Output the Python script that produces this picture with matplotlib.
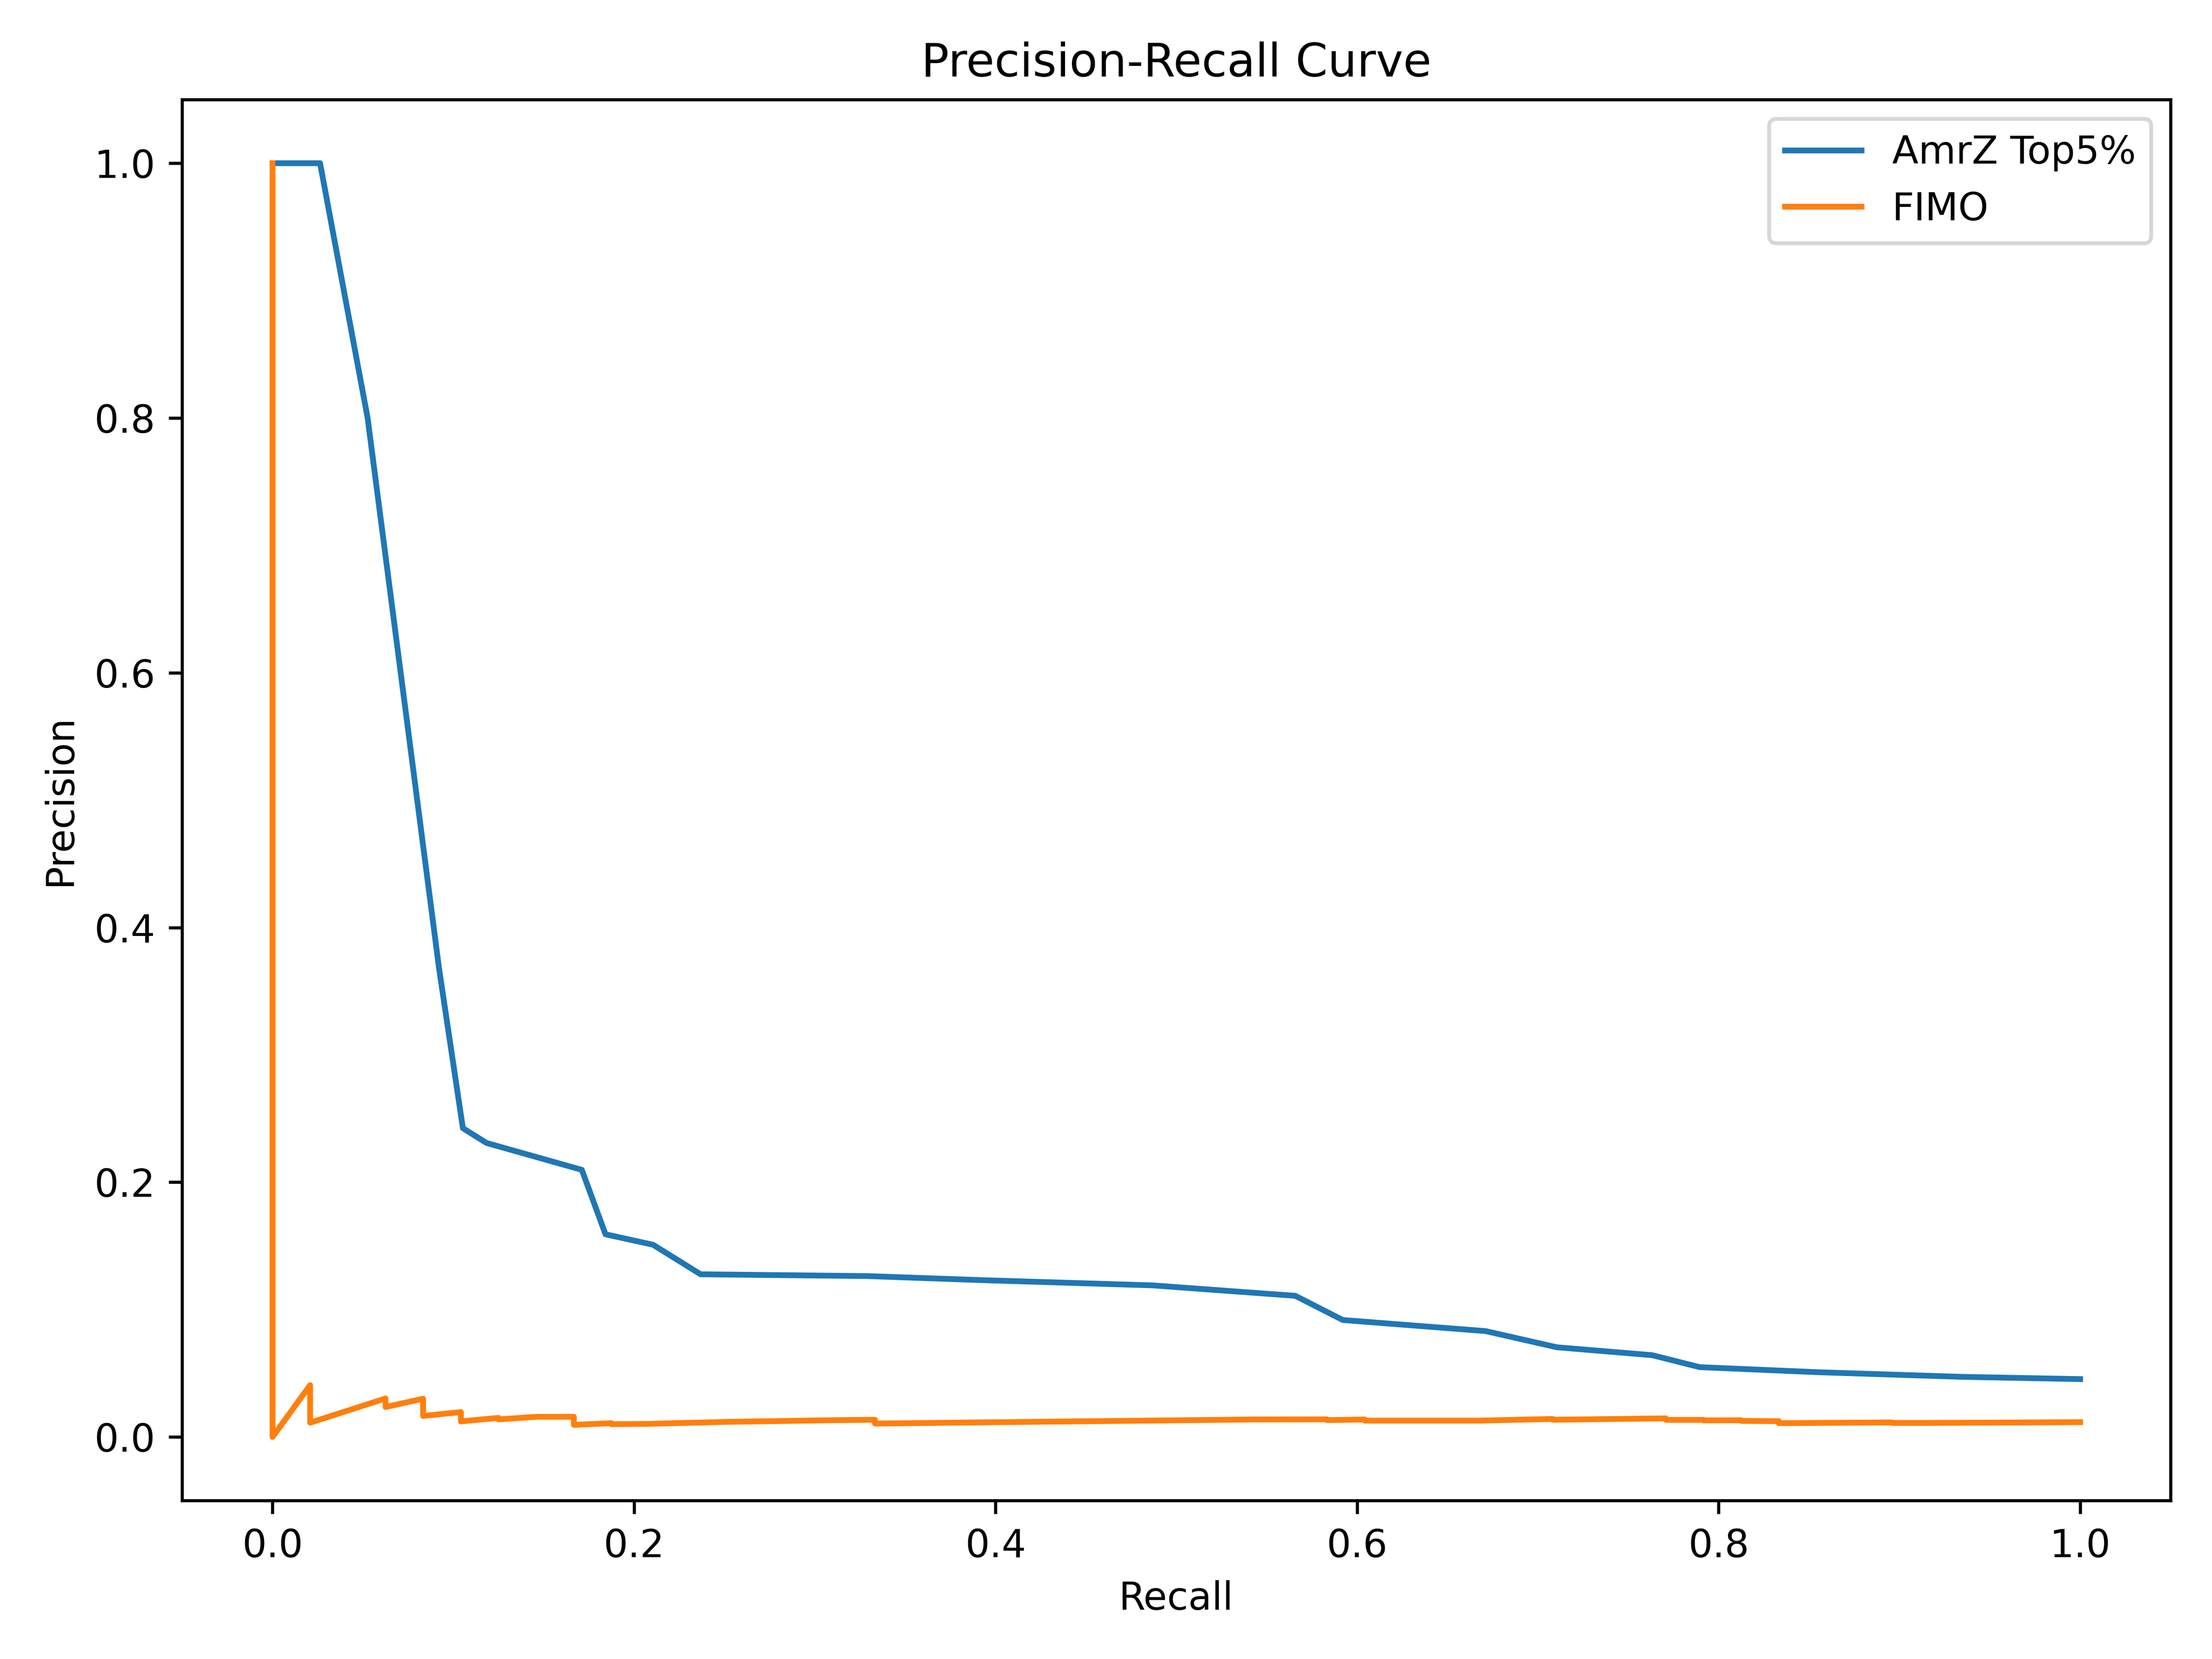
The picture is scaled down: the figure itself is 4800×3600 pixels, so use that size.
import matplotlib
matplotlib.use("Agg")
import matplotlib.pyplot as plt

# AmrZ Top5% precision-recall points
amrz_recall = [0.0, 0.0263, 0.0526, 0.0921, 0.1053, 0.1184, 0.1711, 0.1842, 0.2105,
               0.2368, 0.3289, 0.3947, 0.4868, 0.5658, 0.5921, 0.6711, 0.7105, 0.7632,
               0.7895, 0.8553, 0.9342, 1.0]
amrz_precision = [1.0, 1.0, 0.80, 0.368, 0.2424, 0.2308, 0.2097, 0.1591, 0.1509,
                  0.1277, 0.1263, 0.1230, 0.1190, 0.1108, 0.0918, 0.0831, 0.0704, 0.0642,
                  0.0548, 0.0508, 0.0472, 0.0454]

# FIMO precision-recall points
fimo_recall = [0.0, 0.0, 0.0208, 0.0208, 0.0625, 0.0625, 0.0833, 0.0833, 0.1042, 0.1042,
               0.125, 0.125, 0.1458, 0.1667, 0.1667, 0.1875, 0.1875, 0.2083, 0.25,
               0.3125, 0.3333, 0.3333, 0.3958, 0.5417, 0.5833, 0.5833, 0.6042, 0.6042,
               0.6667, 0.7083, 0.7083, 0.7708, 0.7708, 0.7917, 0.7917, 0.8125, 0.8125,
               0.8333, 0.8333, 0.8958, 0.8958, 0.9167, 1.0]
fimo_precision = [1.0, 0.0, 0.0407, 0.0112, 0.0302, 0.0235, 0.0300, 0.0165, 0.0195, 0.0122,
                  0.0150, 0.0138, 0.0158, 0.0158, 0.0095, 0.0108, 0.0100, 0.0103, 0.0118,
                  0.0132, 0.0135, 0.0105, 0.0115, 0.0137, 0.0138, 0.0132, 0.0137, 0.0128,
                  0.0128, 0.0141, 0.0135, 0.0146, 0.0134, 0.0134, 0.0130, 0.0131, 0.0126,
                  0.0124, 0.0108, 0.0114, 0.0110, 0.0110, 0.0116]

fig, ax = plt.subplots(figsize=(8, 6), dpi=600)
ax.plot(amrz_recall, amrz_precision, label="AmrZ Top5%")
ax.plot(fimo_recall, fimo_precision, label="FIMO")
ax.set_xlabel("Recall")
ax.set_ylabel("Precision")
ax.set_title("Precision-Recall Curve")
ax.legend(loc="upper right")
fig.tight_layout()
fig.savefig("out.png", dpi=600)
